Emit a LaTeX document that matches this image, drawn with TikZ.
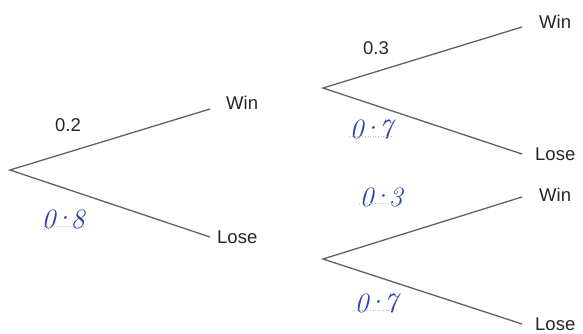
\documentclass[tikz,border=0pt]{standalone}
\usepackage{fontspec}
\setmainfont{Liberation Sans}
\newfontfamily\handfont{Latin Modern Roman}
\usetikzlibrary{positioning, calc}

\newcommand{\handdot}{\kern-3pt\raisebox{1pt}{·}\kern-3pt}

\begin{document}
\begin{tikzpicture}[x=1pt, y=-1pt,
        branch/.style={draw=black!62, line width=1.3pt},
        outcome/.style={font=\fontsize{18.5}{18.5}\selectfont, inner sep=0pt, text=black!85},
        prob/.style={font=\fontsize{18.5}{18.5}\selectfont, inner sep=0pt, text=black!85},
        hand/.style={font=\handfont\itshape\fontsize{28}{28}\selectfont, inner sep=0pt, text={rgb,255:red,45;green,65;blue,175}},
        blank/.style={draw=black!25, dotted, line width=0.6pt}
    ]
        \useasboundingbox (0,0) rectangle (583,333);

        % Branch points
        \coordinate (r) at (10,170);
        \coordinate (w) at (210,109);
        \coordinate (l) at (210,237);
        \coordinate (wr) at (323,88);
        \coordinate (lr) at (323,259);
        \coordinate (ww) at (522,27);
        \coordinate (wl) at (522,154);
        \coordinate (lw) at (522,197);
        \coordinate (ll) at (522,324);

        % Branches
        \draw[branch] (w) -- (r) -- (l);
        \draw[branch] (ww) -- (wr) -- (wl);
        \draw[branch] (lw) -- (lr) -- (ll);

        % Outcomes
        \node[outcome, right=16pt of w, yshift=6pt] (wlab) {Win};
        \node[outcome, right=7pt of l] (llab) {Lose};
        \node[outcome, right=17pt of ww, yshift=5pt] (wwlab) {Win};
        \node[outcome, right=13pt of wl] (wllab) {Lose};
        \node[outcome, right=17pt of lw, yshift=2pt] (lwlab) {Win};
        \node[outcome, right=13pt of ll] (lllab) {Lose};

        % Printed probabilities
        \node[prob] (p1) at (68,125) {0.2};
        \node[prob] (p2) at (376,48) {0.3};

        % Written answers
        \node[hand] (h1) at (63,219) {0\handdot8};
        \node[hand] (h2) at (371,129) {0\handdot7};
        \node[hand] (h3) at (381,197) {0\handdot3};
        \node[hand] (h4) at (376,303) {0\handdot7};
        \draw[blank] ([yshift=3pt]h1.south west) -- ([yshift=3pt]h1.south east);
        \draw[blank] ([yshift=3pt]h2.south west) -- ([yshift=3pt]h2.south east);
        \draw[blank] ([yshift=4pt]h3.south west) -- ([yshift=4pt]h3.south east);
        \draw[blank] ([yshift=3pt]h4.south west) -- ([yshift=3pt]h4.south east);
    \end{tikzpicture}
\end{document}
